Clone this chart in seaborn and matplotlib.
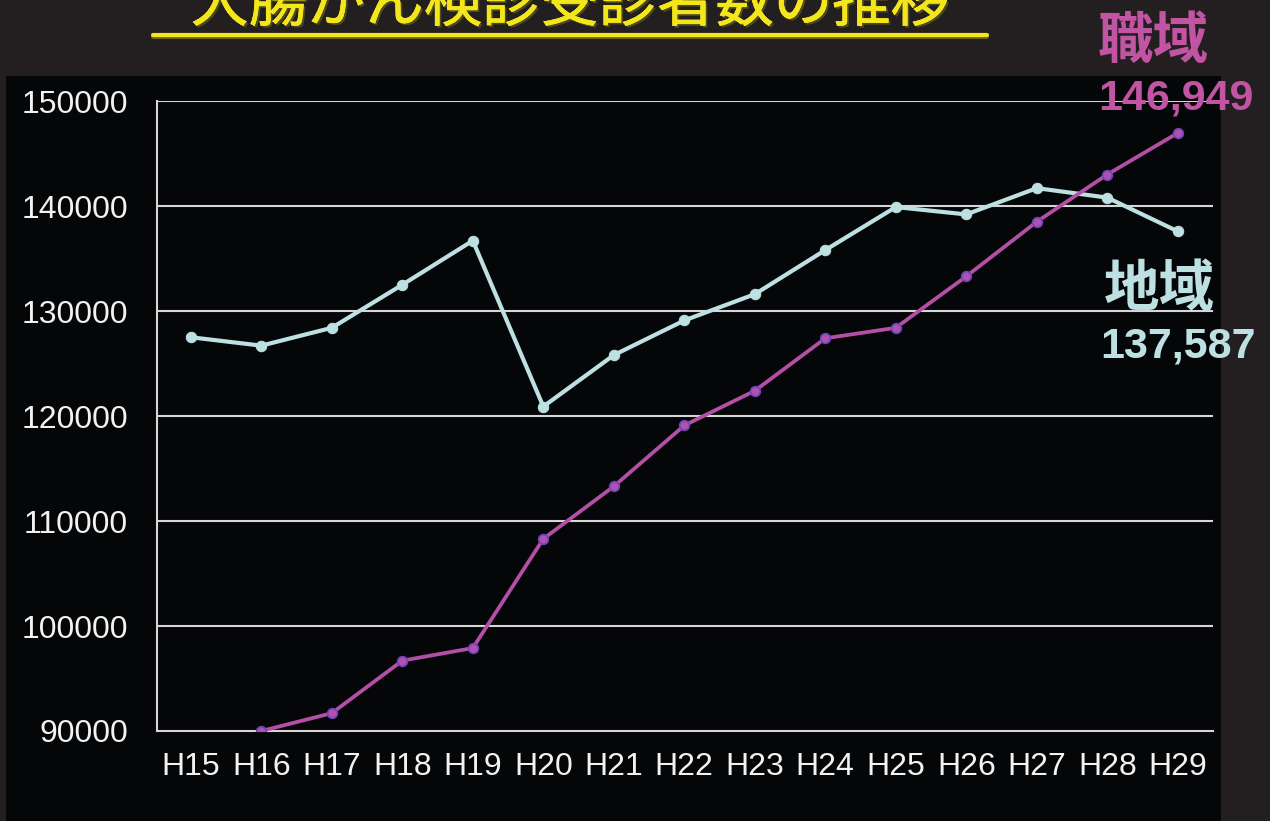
import numpy as np
import pandas as pd
import seaborn as sns
import matplotlib.pyplot as plt
import matplotlib.patheffects as pe
from matplotlib.patches import Rectangle
from matplotlib.lines import Line2D

# Dados
anos = ['H15', 'H16', 'H17', 'H18', 'H19', 'H20', 'H21', 'H22',
        'H23', 'H24', 'H25', 'H26', 'H27', 'H28', 'H29']
chiiki = [127500, 126700, 128400, 132500, 136700, 120900, 125800, 129100,
          131600, 135800, 139900, 139200, 141700, 140800, 137587]
shokuiki = [np.nan, 90000, 91700, 96700, 97900, 108300, 113300, 119100,
            122400, 127400, 128400, 133300, 138500, 143000, 146949]
yticks = [90000, 100000, 110000, 120000, 130000, 140000, 150000]

titulo = '大腸がん検診受診者数の推移'
cor_chiiki = '#bde0e3'
cor_shoku = '#b44fa6'
cor_shoku_txt = '#c254a4'
amarelo = '#f3e61b'

sns.set_style('dark')
plt.rcParams['font.family'] = ['Liberation Sans', 'Noto Sans CJK JP']

df = pd.DataFrame({'pos': np.arange(len(anos)), 'ano': anos,
                   '地域': chiiki, '職域': shokuiki})

fig = plt.figure(figsize=(12.7, 8.21), dpi=100, facecolor='#231f20')
# painel preto atras do grafico
fig.patches.append(Rectangle((6 / 1270, 0), 1215 / 1270, 1 - 76 / 821,
                             transform=fig.transFigure, facecolor='#050608',
                             edgecolor='none', zorder=-10))

ax = fig.add_axes([157 / 1270, 1 - 731 / 821, 1056 / 1270, 630 / 821])
ax.set_facecolor('none')
ax.set_zorder(2)

sns.lineplot(data=df, x='pos', y='地域', ax=ax, color=cor_chiiki, lw=3,
             marker='o', markersize=7.5, markeredgecolor=cor_chiiki, zorder=3)
sns.lineplot(data=df, x='pos', y='職域', ax=ax, color=cor_shoku, lw=2.7,
             marker='o', markersize=7, markerfacecolor='#b050b0',
             markeredgecolor='#6a46b8', markeredgewidth=1.2, zorder=4)

ax.set_xlim(-0.48, 14.5)
ax.set_ylim(90000, 150000)
ax.set_xticks(df['pos'])
ax.set_xticklabels(anos)
ax.set_yticks(yticks)
ax.set_yticklabels([str(v) for v in yticks])
ax.set_xlabel('')
ax.set_ylabel('')
ax.grid(False)
for v in yticks[1:]:
    ax.axhline(v, color='#d6d6d6', lw=1.5, zorder=1)
ax.tick_params(axis='both', length=0, colors='#f2f2f2', labelsize=23)
ax.tick_params(axis='y', pad=21)
ax.tick_params(axis='x', pad=15)
for s in ['top', 'right']:
    ax.spines[s].set_visible(False)
for s in ['left', 'bottom']:
    ax.spines[s].set_color('#d6d6d6')
    ax.spines[s].set_linewidth(1.5)

# titulo e sublinhado
fig.text(570 / 1270, 1 - 21 / 821, titulo, color=amarelo, fontsize=42,
         ha='center', va='baseline', family=['Noto Sans CJK JP'],
         path_effects=[pe.withSimplePatchShadow(offset=(1.5, -1.5), shadow_rgbFace='#5a5520', alpha=0.8),
                       pe.Stroke(linewidth=0.5, foreground=amarelo), pe.Normal()])
fig.add_artist(Line2D([153 / 1270, 987 / 1270], [1 - 37 / 821, 1 - 37 / 821],
                      color='#6b6420', lw=3, transform=fig.transFigure))
fig.add_artist(Line2D([153 / 1270, 987 / 1270], [1 - 35.5 / 821, 1 - 35.5 / 821],
                      color=amarelo, lw=3, transform=fig.transFigure))

# rotulos das series
fig.text(1153 / 1270, 1 - 42 / 821, '職域', color=cor_shoku_txt, fontsize=40,
         weight='bold', ha='center', va='center', family=['Noto Sans CJK JP'])
fig.text(1176 / 1270, 1 - 99 / 821, f'{shokuiki[-1]:,}', color=cor_shoku_txt,
         fontsize=31, weight='bold', ha='center', va='center', zorder=10)
fig.text(1159 / 1270, 1 - 290 / 821, '地域', color=cor_chiiki, fontsize=40,
         weight='bold', ha='center', va='center', family=['Noto Sans CJK JP'])
fig.text(1178 / 1270, 1 - 346 / 821, f'{chiiki[-1]:,}', color=cor_chiiki,
         fontsize=31, weight='bold', ha='center', va='center', zorder=10)

fig.savefig('out.png', dpi=100, facecolor=fig.get_facecolor())
